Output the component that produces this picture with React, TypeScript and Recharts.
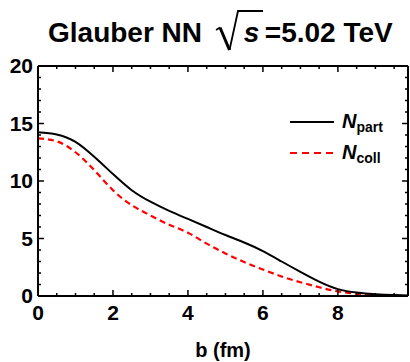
import React from 'react';
import { LineChart, Line, XAxis, YAxis, Legend } from 'recharts';

const FONT = '"Liberation Sans", Arial, sans-serif';

// impact parameter b (fm)
const bValues = [0, 0.5, 1, 1.5, 2, 2.5, 3, 3.5, 4, 4.5, 5, 5.5, 6, 6.5, 7, 7.5, 8, 8.5, 9, 9.5, 9.87];
const nPart = [14.23, 14.05, 13.4, 12.1, 10.6, 9.2, 8.2, 7.4, 6.7, 6.0, 5.3, 4.65, 3.9, 3.0, 2.1, 1.25, 0.6, 0.3, 0.16, 0.08, 0.04];
const nColl = [13.7, 13.45, 12.5, 10.95, 9.2, 7.9, 7.0, 6.2, 5.5, 4.55, 3.7, 2.95, 2.3, 1.7, 1.2, 0.76, 0.4, 0.19, 0.08, 0.03, 0.01];

// frame ticks: every value gets a tick mark, only majors get a label
const xTicks = [0, 0.5, 1, 1.5, 2, 2.5, 3, 3.5, 4, 4.5, 5, 5.5, 6, 6.5, 7, 7.5, 8, 8.5, 9, 9.5];
const xLabelStep = 2;
const yTicks = [0, 1, 2, 3, 4, 5, 6, 7, 8, 9, 10, 11, 12, 13, 14, 15, 16, 17, 18, 19, 20];
const yLabelStep = 5;

const data = bValues.map((b, i) => ({ b, npart: nPart[i], ncoll: nColl[i] }));

const X_DOMAIN: [number, number] = [0, 9.87];
const Y_DOMAIN: [number, number] = [0, 20];

const MAJOR = 6;
const MINOR = 3;
const labelFont = { fontSize: 21, fontWeight: 'bold' as const, fill: '#000', fontFamily: FONT };
const frame = { stroke: '#000', strokeWidth: 2 };

const isMajor = (v: number, step: number) => Math.abs(v / step - Math.round(v / step)) < 1e-6;

// side: direction the tick points into the plot
const makeTick = (side: 'bottom' | 'top' | 'left' | 'right', step: number, label: boolean) => (props: any) => {
  const { x, y, payload } = props;
  const major = isMajor(payload.value, step);
  const len = major ? MAJOR : MINOR;
  let x2 = x, y2 = y;
  if (side === 'bottom') y2 = y - len;
  if (side === 'top') y2 = y + len;
  if (side === 'left') x2 = x + len;
  if (side === 'right') x2 = x - len;
  return (
    <g>
      <line x1={x} y1={y} x2={x2} y2={y2} stroke="#000" strokeWidth={1.5} />
      {label && major && side === 'bottom' && (
        <text x={x} y={y + 9} dy="0.71em" textAnchor="middle" {...labelFont}>{payload.value}</text>
      )}
      {label && major && side === 'left' && (
        <text x={x - 5} y={y} dy="0.355em" textAnchor="end" {...labelFont}>{payload.value}</text>
      )}
    </g>
  );
};

const legendItems = [
  { sub: 'part', color: '#000', dash: undefined },
  { sub: 'coll', color: '#ff0000', dash: '7 5' },
];

const LegendBox = () => (
  <div style={{ fontFamily: FONT, fontWeight: 'bold', color: '#000' }}>
    {legendItems.map((it) => (
      <div key={it.sub} style={{ display: 'flex', alignItems: 'center', height: 31 }}>
        <svg width={44} height={6} style={{ display: 'block' }}>
          <line x1={0} x2={44} y1={3} y2={3} stroke={it.color} strokeWidth={2} strokeDasharray={it.dash} />
        </svg>
        <span style={{ marginLeft: 8, fontStyle: 'italic', fontSize: 20 }}>N</span>
        <span style={{ fontSize: 14, position: 'relative', top: 5 }}>{it.sub}</span>
      </div>
    ))}
  </div>
);

const Title = () => (
  <div
    style={{
      position: 'absolute',
      left: 48,
      top: 19,
      fontFamily: FONT,
      fontWeight: 'bold',
      fontSize: 28,
      lineHeight: '28px',
      color: '#000',
      whiteSpace: 'nowrap',
    }}
  >
    Glauber NN{' '}
    <span style={{ position: 'relative', display: 'inline-block', width: 47, marginLeft: 6, lineHeight: '28px' }}>
      <svg width={50} height={44} style={{ position: 'absolute', left: 0, top: -9.5, overflow: 'visible' }}>
        <path d="M0 20 L4 17.5" stroke="#000" strokeWidth={1.5} fill="none" />
        <path d="M4 17.5 L13.5 40" stroke="#000" strokeWidth={3} fill="none" />
        <path d="M13.5 40 L22 1 L47 1" stroke="#000" strokeWidth={1.8} fill="none" />
      </svg>
      <span style={{ fontStyle: 'italic', paddingLeft: 28 }}>s</span>
    </span>
    <span style={{ marginLeft: 2 }}>=5.02 TeV</span>
  </div>
);

export default function App() {
  return (
    <div style={{ position: 'absolute', left: 0, top: 0, width: 410, height: 362, background: '#fff' }}>
      <Title />
      <LineChart width={410} height={362} data={data} margin={{ top: 65, right: 1, bottom: 0, left: 0 }}>
        <XAxis
          xAxisId="x"
          dataKey="b"
          type="number"
          domain={X_DOMAIN}
          allowDataOverflow
          ticks={xTicks}
          interval={0}
          tickLine={false}
          tickSize={0}
          tickMargin={0}
          tick={makeTick('bottom', xLabelStep, true)}
          axisLine={frame}
          height={66}
          label={{ value: 'b (fm)', position: 'insideBottom', offset: 5, style: { ...labelFont, fontSize: 20 } }}
        />
        <XAxis
          xAxisId="xTop"
          orientation="top"
          dataKey="b"
          type="number"
          domain={X_DOMAIN}
          allowDataOverflow
          ticks={xTicks}
          interval={0}
          tickLine={false}
          tickSize={0}
          tickMargin={0}
          tick={makeTick('top', xLabelStep, false)}
          axisLine={frame}
          height={1}
        />
        <YAxis
          yAxisId="y"
          type="number"
          domain={Y_DOMAIN}
          allowDataOverflow
          ticks={yTicks}
          interval={0}
          tickLine={false}
          tickSize={0}
          tickMargin={0}
          tick={makeTick('left', yLabelStep, true)}
          axisLine={frame}
          width={38}
        />
        <YAxis
          yAxisId="yRight"
          orientation="right"
          type="number"
          domain={Y_DOMAIN}
          allowDataOverflow
          ticks={yTicks}
          interval={0}
          tickLine={false}
          tickSize={0}
          tickMargin={0}
          tick={makeTick('right', yLabelStep, false)}
          axisLine={frame}
          width={1}
        />

        <Line xAxisId="x" yAxisId="y" type="natural" dataKey="ncoll" stroke="#ff0000" strokeWidth={2.2} strokeDasharray="6 4" dot={false} isAnimationActive={false} />
        <Line xAxisId="x" yAxisId="y" type="natural" dataKey="npart" stroke="#000" strokeWidth={2} dot={false} isAnimationActive={false} />

        <Legend
          layout="horizontal"
          verticalAlign="middle"
          align="center"
          content={() => <LegendBox />}
          wrapperStyle={{ top: 106, left: 290, width: 'auto', height: 'auto' }}
        />
      </LineChart>
    </div>
  );
}
